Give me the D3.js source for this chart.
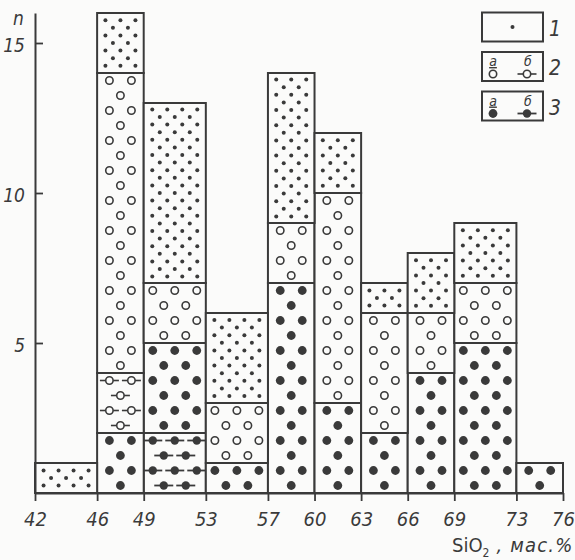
<!DOCTYPE html>
<html><head><meta charset="utf-8">
<script src="https://cdn.jsdelivr.net/npm/d3@7"></script>
<style>
html,body{margin:0;padding:0;background:#fbfbfa;}
svg{display:block;}
text{font-family:"DejaVu Sans Condensed","Liberation Sans Narrow",sans-serif;fill:#3a3a3a;}
</style></head><body>
<svg id="chart" width="575" height="560"></svg>
<script>
// SiO2 content bins, wt.%
const binEdges = [42, 46, 49, 53, 57, 60, 63, 66, 69, 73, 76];
// number of samples per bin, by rock group (stacked bottom to top)
const seriesKeys = ["3b", "3a", "2b", "2a", "1"];
const counts3b = [0, 0, 2, 0, 0, 0, 0, 0, 0, 0];
const counts3a = [0, 2, 3, 1, 7, 3, 2, 4, 5, 1];
const counts2b = [0, 2, 0, 0, 0, 0, 0, 0, 0, 0];
const counts2a = [0, 10, 2, 2, 2, 7, 4, 2, 2, 0];
const counts1  = [1, 2, 6, 3, 5, 2, 1, 2, 2, 0];
const yTicks = [5, 10, 15];
const legendLabels = ["1", "2", "3"];

const INK = "#3a3a3a", PAPER = "#fbfbfa";

const rows = binEdges.slice(0, -1).map((lo, i) => ({
  lo, hi: binEdges[i + 1],
  "3b": counts3b[i], "3a": counts3a[i], "2b": counts2b[i], "2a": counts2a[i], "1": counts1[i]
}));
const stacked = d3.stack().keys(seriesKeys)(rows);

const svg = d3.select("#chart");
const x = d3.scaleLinear().domain([42, 76]).range([35, 563]);
const y = d3.scaleLinear().domain([0, 16]).range([493, 13]);

// staggered lattice of glyph centres inside a rectangle
function lattice(x0, x1, y0, y1, hx, sy, mx, my) {
  const w = x1 - x0, h = y1 - y0;
  const K = Math.max(1, Math.floor((w - 2 * mx) / hx) + 1);
  const N = Math.max(1, Math.floor((h - 2 * my) / sy) + 1);
  const cx = (x0 + x1) / 2, cy = (y0 + y1) / 2;
  const pts = [];
  for (let r = 0; r < N; r++) {
    const yy = cy + (r - (N - 1) / 2) * sy;
    for (let k = 0; k < K; k++) {
      if ((k % 2) !== (r % 2)) continue;
      pts.push([cx + (k - (K - 1) / 2) * hx, yy]);
    }
  }
  return pts;
}

function glyph(g, key, px, py) {
  if (key === "1") {
    g.append("circle").attr("cx", px).attr("cy", py).attr("r", 2).attr("fill", INK);
  } else if (key === "2a") {
    g.append("circle").attr("cx", px).attr("cy", py).attr("r", 3.7)
      .attr("fill", "none").attr("stroke", INK).attr("stroke-width", 1.6);
  } else if (key === "2b") {
    g.append("line").attr("x1", px - 9.5).attr("x2", px - 3.7).attr("y1", py).attr("y2", py)
      .attr("stroke", INK).attr("stroke-width", 1.6);
    g.append("line").attr("x1", px + 3.7).attr("x2", px + 9.5).attr("y1", py).attr("y2", py)
      .attr("stroke", INK).attr("stroke-width", 1.6);
    g.append("circle").attr("cx", px).attr("cy", py).attr("r", 3.7)
      .attr("fill", "none").attr("stroke", INK).attr("stroke-width", 1.6);
  } else if (key === "3a") {
    g.append("circle").attr("cx", px).attr("cy", py).attr("r", 4.4).attr("fill", INK);
  } else if (key === "3b") {
    g.append("line").attr("x1", px - 9.5).attr("x2", px + 9.5).attr("y1", py).attr("y2", py)
      .attr("stroke", INK).attr("stroke-width", 1.8);
    g.append("circle").attr("cx", px).attr("cy", py).attr("r", 4.2).attr("fill", INK);
  }
}

const barsG = svg.append("g");
stacked.forEach(layer => {
  const key = layer.key;
  layer.forEach((seg, i) => {
    if (seg[1] - seg[0] <= 0) return;
    const x0 = x(rows[i].lo), x1 = x(rows[i].hi);
    const yTop = y(seg[1]), yBot = y(seg[0]);
    const g = barsG.append("g").attr("class", "seg s" + key);
    g.append("rect").attr("x", x0).attr("y", yTop)
      .attr("width", x1 - x0).attr("height", yBot - yTop)
      .attr("fill", PAPER).attr("stroke", INK).attr("stroke-width", 2);
    const pts = key === "1"
      ? lattice(x0, x1, yTop, yBot, 7.5, 7.6, 6, 5)
      : lattice(x0, x1, yTop, yBot, 11, 15, 8, 7);
    pts.forEach(p => glyph(g, key, p[0], p[1]));
  });
});

// y axis: ticks pointing into the plot
const yAxis = svg.append("g").attr("transform", "translate(35,0)")
  .call(d3.axisLeft(y).tickValues(yTicks).tickSizeInner(-8).tickSizeOuter(0).tickPadding(10));
yAxis.select(".domain").attr("stroke", INK).attr("stroke-width", 2);
yAxis.selectAll(".tick line").attr("stroke", INK).attr("stroke-width", 1.8);
yAxis.selectAll(".tick text").attr("font-size", 19).attr("font-style", "italic")
  .attr("font-family", "'DejaVu Sans Condensed', sans-serif").attr("fill", INK).attr("dy", "0.45em");
svg.append("text").attr("x", 13).attr("y", 25).attr("font-size", 19)
  .attr("font-style", "italic").text("n");

// x axis at the bin edges
const xAxis = svg.append("g").attr("transform", "translate(0,493)")
  .call(d3.axisBottom(x).tickValues(binEdges).tickSize(8).tickSizeOuter(0).tickPadding(11));
xAxis.select(".domain").attr("stroke", INK).attr("stroke-width", 2);
xAxis.selectAll(".tick line").attr("stroke", INK).attr("stroke-width", 1.8);
xAxis.selectAll(".tick text").attr("font-size", 20).attr("font-style", "italic")
  .attr("font-family", "'DejaVu Sans Condensed', sans-serif").attr("fill", INK);

const title = svg.append("text").attr("x", 452).attr("y", 552).attr("font-size", 20);
title.append("tspan").text("SiO");
title.append("tspan").attr("font-size", 12).attr("dy", 5).text("2");
title.append("tspan").attr("dy", -5).attr("font-style", "italic")
  .attr("letter-spacing", 1.2).text(" , мас.%");

// legend
const lg = svg.append("g");
legendLabels.forEach((lab, i) => {
  const top = 12.5 + i * 39.5;
  lg.append("rect").attr("x", 482).attr("y", top).attr("width", 61).attr("height", 29)
    .attr("fill", PAPER).attr("stroke", INK).attr("stroke-width", 2);
  lg.append("text").attr("x", 549).attr("y", top + 23).attr("font-size", 21)
    .attr("font-style", "italic").text(lab);
  if (lab === "1") {
    glyph(lg, "1", 512.5, top + 14.5);
  } else {
    const a = lab === "2" ? "2a" : "3a", b = lab === "2" ? "2b" : "3b";
    lg.append("text").attr("x", 493).attr("y", top + 14).attr("font-size", 14)
      .attr("font-style", "italic").attr("text-anchor", "middle")
      .attr("text-decoration", "underline").text("а");
    lg.append("text").attr("x", 528).attr("y", top + 14).attr("font-size", 14)
      .attr("font-style", "italic").attr("text-anchor", "middle").text("б");
    glyph(lg, a, 493, top + 22);
    glyph(lg, b, 527, top + 22);
  }
});
</script>
</body></html>
